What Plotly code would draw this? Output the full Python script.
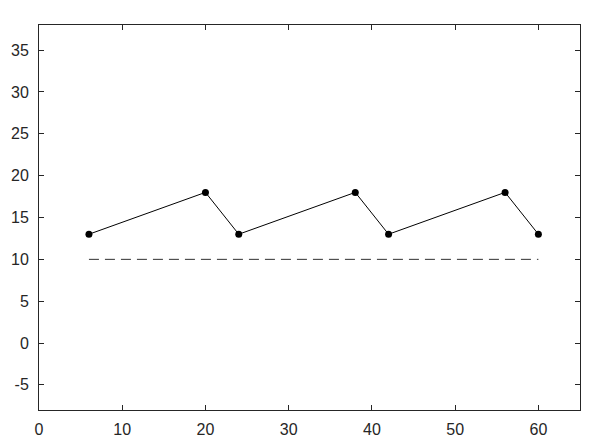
import plotly.graph_objects as go

x_pts = [6, 20, 24, 38, 42, 56, 60]
y_pts = [13, 18, 13, 18, 13, 18, 13]
ref_x = [6, 60]
ref_y = [10, 10]

x_ticks = [0, 10, 20, 30, 40, 50, 60]
y_ticks = [-5, 0, 5, 10, 15, 20, 25, 30, 35]

fig = go.Figure()
fig.add_trace(go.Scatter(x=ref_x, y=ref_y, mode='lines',
                         line=dict(color='#303030', width=1, dash='10px,6px')))
fig.add_trace(go.Scatter(x=x_pts, y=y_pts, mode='lines+markers',
                         line=dict(color='black', width=1),
                         marker=dict(color='black', size=7)))

# the page body offsets the figure by 8px at top/left
axis_style = dict(showgrid=False, zeroline=False, showline=True, linecolor='#262626',
                  linewidth=1, mirror='ticks', ticks='inside', ticklen=5, automargin=False,
                  tickcolor='#262626', tickfont=dict(family='Liberation Sans, Arial', size=16, color='#262626'))
fig.update_xaxes(range=[0, 65], tickvals=x_ticks, ticktext=[str(v) for v in x_ticks],
                 ticklabelstandoff=5, **axis_style)
fig.update_yaxes(range=[-8, 38], tickvals=y_ticks, ticktext=[str(v) for v in y_ticks],
                 ticklabelstandoff=6, **axis_style)
fig.update_layout(width=598, height=440, showlegend=False,
                  plot_bgcolor='white', paper_bgcolor='white',
                  margin=dict(l=31, r=26, t=17, b=38))
fig.write_html("out.html")
